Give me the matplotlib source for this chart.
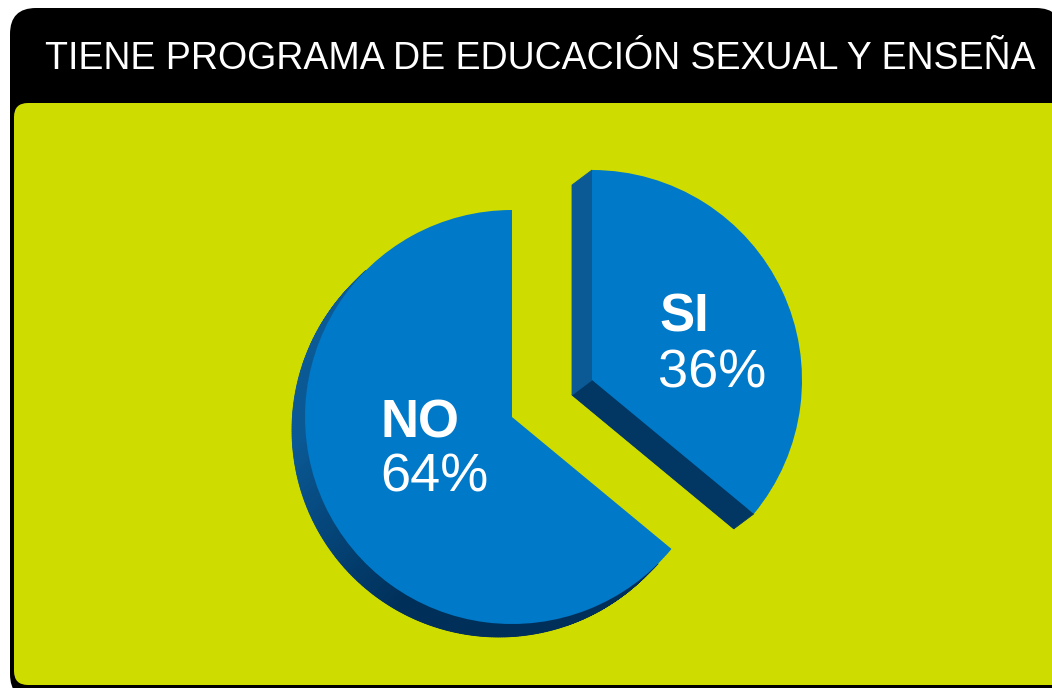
import numpy as np
import matplotlib
matplotlib.use("Agg")
import matplotlib.pyplot as plt
from matplotlib.patches import FancyBboxPatch, Polygon, Wedge
import matplotlib.colors as mcolors

# ---- data ----
title = "TIENE PROGRAMA DE EDUCACIÓN SEXUAL Y ENSEÑA"
categories = ["NO", "SI"]
values = [64, 36]

# ---- style / layout ----
W, H = 1052, 688
TOP = "#0079C8"
LIGHT_SIDE = np.array(mcolors.to_rgb("#0b5a96"))
DARK_SIDE = np.array(mcolors.to_rgb("#00305a"))
GREEN = "#CFDC00"

fig = plt.figure(figsize=(W / 100, H / 100), dpi=100)
fig.patch.set_facecolor("white")
ax = fig.add_axes([0, 0, 1, 1])
ax.set_xlim(0, W)
ax.set_ylim(0, H)
ax.set_aspect("equal")
ax.axis("off")

def py(y):  # pixel y (from top) -> data y
    return H - y

# frame
ax.add_patch(FancyBboxPatch((10, py(700)), 1062 - 10, 700 - 8,
                            boxstyle="round,pad=0,rounding_size=26",
                            fc="black", ec="none", zorder=1))
ax.add_patch(FancyBboxPatch((14, py(685)), 1100, 685 - 103,
                            boxstyle="round,pad=0,rounding_size=14",
                            fc=GREEN, ec="none", zorder=2))
ax.text(45, py(69), title, color="white", fontsize=27,
        family=["Liberation Sans", "DejaVu Sans"], va="baseline", ha="left", zorder=10)

# pie geometry per slice: centre (px), radius, extrusion offset (data units)
centres = [(512, 417), (592, 380)]
radii = [207, 210]
offsets = [(-13, -13), (-20, -15)]

def side_color(normal_deg):
    a = normal_deg % 360
    t = np.clip((a - 185) / 55.0, 0, 1)
    return tuple(LIGHT_SIDE * (1 - t) + DARK_SIDE * t)

def extrude(cx, cy, r, t1, t2, off, z):
    off = np.array(off, dtype=float)
    odir = off / np.linalg.norm(off)
    c = np.array([cx, cy])
    # bottom face
    ax.add_patch(Wedge((cx + off[0], cy + off[1]), r, t1, t2,
                       fc=side_color(230), ec="none", zorder=z))
    # arc side
    angs = np.linspace(t1, t2, int(abs(t2 - t1) * 2) + 2)
    for a0, a1 in zip(angs[:-1], angs[1:]):
        am = np.radians((a0 + a1) / 2)
        nrm = np.array([np.cos(am), np.sin(am)])
        if nrm @ odir <= 0:
            continue
        p0 = c + r * np.array([np.cos(np.radians(a0)), np.sin(np.radians(a0))])
        p1 = c + r * np.array([np.cos(np.radians(a1)), np.sin(np.radians(a1))])
        ax.add_patch(Polygon([p0, p1, p1 + off, p0 + off], closed=True,
                             fc=side_color(np.degrees(am)), ec=side_color(np.degrees(am)),
                             lw=0.6, zorder=z + 1))
    # radial sides
    for ang, sign in ((t1, -1), (t2, 1)):
        d = np.array([np.cos(np.radians(ang)), np.sin(np.radians(ang))])
        nang = ang + sign * 90
        nrm = np.array([np.cos(np.radians(nang)), np.sin(np.radians(nang))])
        if nrm @ odir <= 0:
            continue
        p = c + r * d
        ax.add_patch(Polygon([c, p, p + off, c + off], closed=True,
                             fc=side_color(nang), ec=side_color(nang), lw=0.6, zorder=z + 2))

# draw each slice via the library's pie, with its own centre
for i in range(len(values)):
    cx, cy = centres[i][0], py(centres[i][1])
    cols = ["none"] * len(values)
    cols[i] = TOP
    wedges, _ = ax.pie(values, startangle=90, counterclock=True, colors=cols,
                       center=(cx, cy), radius=radii[i], frame=True,
                       wedgeprops=dict(linewidth=0, zorder=20 + 10 * i))
    w = wedges[i]
    extrude(cx, cy, radii[i], w.theta1, w.theta2, offsets[i], 11 + 10 * i)
    w.set_zorder(15 + 10 * i)

ax.set_xlim(0, W)
ax.set_ylim(0, H)
ax.axis("off")

# labels
label_pos = {"NO": (381, 437, 492), "SI": (659, 331, 387)}
for cat, v in zip(categories, values):
    x, yb1, yb2 = label_pos[cat]
    ax.text(x, py(yb1), cat, color="white", fontsize=38, fontweight="bold",
            family=["Liberation Sans", "DejaVu Sans"], va="baseline", ha="left", zorder=50)
    ax.text(x - 1, py(yb2), f"{v}%", color="white", fontsize=39,
            family=["Liberation Sans", "DejaVu Sans"], va="baseline", ha="left", zorder=50)

fig.savefig("out.png", dpi=100, facecolor="white")
